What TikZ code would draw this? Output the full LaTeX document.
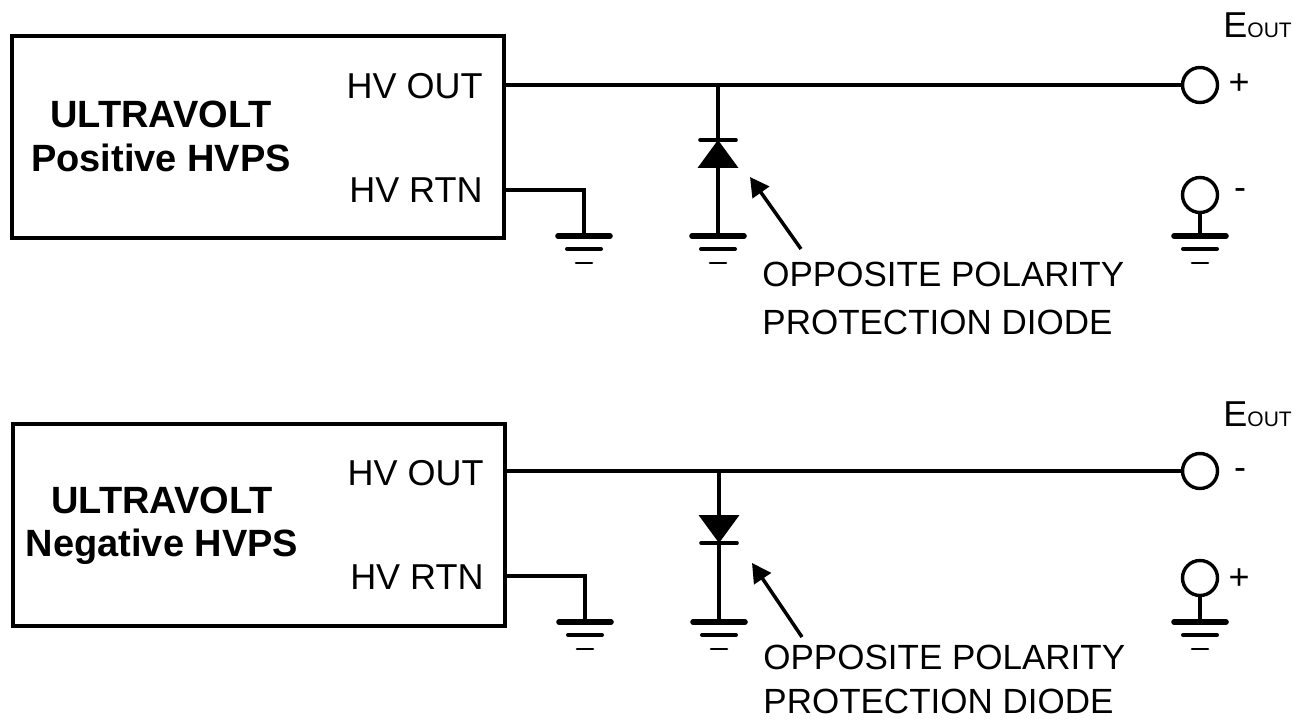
\documentclass[tikz,border=0pt]{standalone}
\usepackage{fontspec}
\setmainfont{Liberation Sans}
\usetikzlibrary{arrows.meta}
\begin{document}
\begin{tikzpicture}[x=0.5pt,y=-0.5pt,
 wire/.style={line width=2pt},
 box/.style={draw, line width=2pt, minimum width=246pt, minimum height=101pt, inner sep=0pt},
 lbl/.style={inner sep=0pt, font=\fontsize{18}{20}\selectfont},
 note/.style={inner sep=0pt, font=\fontsize{17.5}{20}\selectfont},
 title/.style={inner sep=0pt, font=\fontsize{19}{22}\selectfont\bfseries},
 term/.style={draw, circle, line width=1.7pt, minimum size=17.5pt, inner sep=0pt},
 cathode/.style={line width=1.8pt, line cap=round},
 pointer/.style={line width=1.75pt, -{Triangle[length=9.5pt,width=10pt]}},
 earth/.pic={
   \draw[line width=2.8pt, line cap=round] (-26,0) -- (26,0);
   \draw[line width=2pt, line cap=round] (-17,13) -- (17,13);
   \draw[line width=1.3pt, line cap=round] (-8,27) -- (8,27);
 }]
\useasboundingbox (0,0) rectangle (1305,721);

% ================= upper circuit =================
\node[box] (boxA) at (257.5,137.5) {};
\node[title, anchor=base] (tA1) at (161,128) {ULTRAVOLT};
\node[title, anchor=base] (tA2) at (161,172) {Positive HVPS};
\node[lbl, anchor=base east] (outA) at (483,99) {HV OUT};
\node[lbl, anchor=base east] (rtnA) at (483,203) {HV RTN};
\coordinate (pA) at (0,85);
\coordinate (rA) at (0,190);
\node[term] (tpA) at (1200,85) {};
\node[term] (tmA) at (1200,195) {};
\draw[wire] (boxA.east |- pA) -- (tpA.west);
% return to ground
\coordinate (gA1) at (584,236);
\draw[wire] (boxA.east |- rA) -| (gA1);
\pic at (gA1) {earth};
% diode
\coordinate (dA) at (718,85);
\coordinate (kA) at (718,140);
\coordinate (aA) at (718,168);
\coordinate (gA2) at (718,236);
\draw[wire] (dA) -- (kA);
\draw[cathode] ([xshift=-9pt]kA) -- ([xshift=9pt]kA);
\fill (kA) -- ([xshift=-10.25pt]aA) -- ([xshift=10.25pt]aA) -- cycle;
\draw[wire] (aA) -- (gA2);
\pic at (gA2) {earth};
% output return terminal
\coordinate (gA3) at (1200,236);
\draw[wire] (tmA.south) -- (gA3);
\pic at (gA3) {earth};
\node[lbl] (plusA) at (1239,84) {+};
\node[lbl] (minusA) at (1240,194) {-};
\node[lbl, anchor=base west] (eA) at (1223,38) {E{\fontsize{10.5}{12}\selectfont OUT}};
% annotation
\coordinate (arA1) at (801,249);
\coordinate (arA2) at (750,177);
\draw[pointer] (arA1) -- (arA2);
\node[note, anchor=base west] (nA1) at (762,287) {OPPOSITE POLARITY};
\node[note, anchor=base west] (nA2) at (762,335) {PROTECTION DIODE};

% ================= lower circuit =================
\node[box] (boxB) at (258.5,524.5) {};
\node[title, anchor=base] (tB1) at (162,513) {ULTRAVOLT};
\node[title, anchor=base] (tB2) at (162,556) {Negative HVPS};
\node[lbl, anchor=base east] (outB) at (484,485) {HV OUT};
\node[lbl, anchor=base east] (rtnB) at (484,589) {HV RTN};
\coordinate (pB) at (0,471);
\coordinate (rB) at (0,576);
\node[term] (tpB) at (1200,471) {};
\node[term] (tmB) at (1200,578) {};
\draw[wire] (boxB.east |- pB) -- (tpB.west);
% return to ground
\coordinate (gB1) at (585,622);
\draw[wire] (boxB.east |- rB) -| (gB1);
\pic at (gB1) {earth};
% diode
\coordinate (dB) at (719,471);
\coordinate (aB) at (719,515);
\coordinate (kB) at (719,543);
\coordinate (gB2) at (719,622);
\draw[wire] (dB) -- (aB);
\fill ([xshift=-10.25pt]aB) -- ([xshift=10.25pt]aB) -- (kB) -- cycle;
\draw[cathode] ([xshift=-9pt]kB) -- ([xshift=9pt]kB);
\draw[wire] (kB) -- (gB2);
\pic at (gB2) {earth};
% output return terminal
\coordinate (gB3) at (1200,622);
\draw[wire] (tmB.south) -- (gB3);
\pic at (gB3) {earth};
\node[lbl] (minusB) at (1240,474) {-};
\node[lbl] (plusB) at (1239,579) {+};
\node[lbl, anchor=base west] (eB) at (1223,426) {E{\fontsize{10.5}{12}\selectfont OUT}};
% annotation
\coordinate (arB1) at (802,637);
\coordinate (arB2) at (752,563);
\draw[pointer] (arB1) -- (arB2);
\node[note, anchor=base west] (nB1) at (763,669) {OPPOSITE POLARITY};
\node[note, anchor=base west] (nB2) at (763,713) {PROTECTION DIODE};
\end{tikzpicture}
\end{document}
